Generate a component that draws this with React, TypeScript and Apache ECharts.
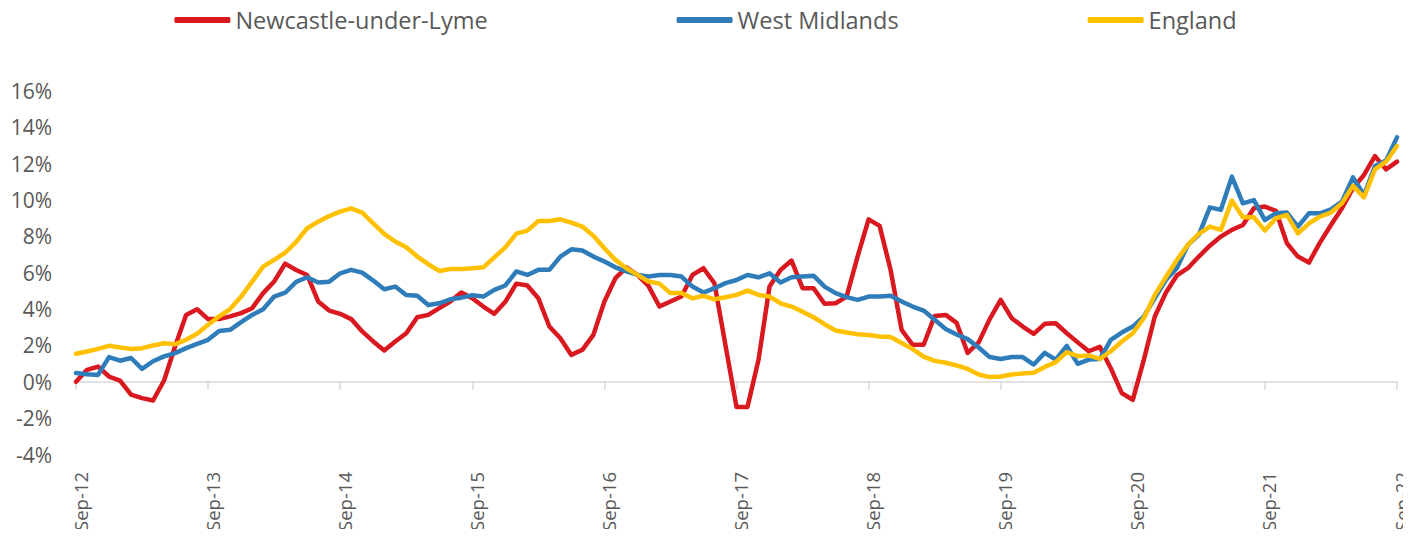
import React, { useEffect, useRef } from "react";
import * as echarts from "echarts";

const MONTHS = ["Jan", "Feb", "Mar", "Apr", "May", "Jun", "Jul", "Aug", "Sep", "Oct", "Nov", "Dec"];
// Monthly categories Sep-12 .. Sep-22
const categories: string[] = [];
for (let k = 0; k <= 120; k++) {
  const m = (8 + k) % 12;
  const y = 12 + Math.floor((8 + k) / 12);
  categories.push(`${MONTHS[m]}-${y}`);
}

const seriesNames = ["Newcastle-under-Lyme", "West Midlands", "England"];

const newcastle = [
  0.0, 0.66, 0.84, 0.29, 0.07, -0.71, -0.9, -1.03, 0.07, 1.94, 3.68, 3.99,
  3.45, 3.45, 3.6, 3.78, 4.05, 4.88, 5.52, 6.5, 6.15, 5.88, 4.42, 3.92,
  3.74, 3.45, 2.77, 2.22, 1.72, 2.22, 2.67, 3.55, 3.68, 4.05, 4.42, 4.91,
  4.6, 4.14, 3.74, 4.4, 5.4, 5.3, 4.6, 3.04, 2.4, 1.48, 1.76, 2.58,
  4.42, 5.7, 6.3, 5.88, 5.28, 4.14, 4.42, 4.69, 5.88, 6.25, 5.42, 2.0,
  -1.38, -1.38, 1.21, 5.24, 6.15, 6.67, 5.15, 5.15, 4.29, 4.32, 4.69, 6.89,
  8.94, 8.58, 6.15, 2.86, 2.04, 2.04, 3.62, 3.68, 3.24, 1.59, 2.17, 3.45,
  4.51, 3.5, 3.04, 2.64, 3.19, 3.22, 2.67, 2.17, 1.68, 1.92, 0.75, -0.62,
  -0.99, 1.21, 3.59, 4.9, 5.85, 6.25, 6.89, 7.49, 7.99, 8.36, 8.63, 9.55,
  9.64, 9.4, 7.62, 6.89, 6.56, 7.66, 8.63, 9.55, 10.65, 11.38, 12.42, 11.69,
  12.11,
];

const westMidlands = [
  0.48, 0.42, 0.38, 1.36, 1.16, 1.31, 0.71, 1.13, 1.4, 1.58, 1.85, 2.09,
  2.31, 2.8, 2.86, 3.28, 3.68, 3.99, 4.69, 4.9, 5.5, 5.75, 5.46, 5.51,
  5.97, 6.16, 6.01, 5.57, 5.09, 5.24, 4.78, 4.73, 4.23, 4.32, 4.54, 4.63,
  4.76, 4.69, 5.06, 5.3, 6.07, 5.88, 6.16, 6.16, 6.89, 7.29, 7.22, 6.89,
  6.62, 6.3, 6.07, 5.88, 5.79, 5.88, 5.88, 5.79, 5.24, 4.91, 5.15, 5.43,
  5.6, 5.88, 5.75, 5.97, 5.46, 5.75, 5.79, 5.84, 5.24, 4.88, 4.66, 4.51,
  4.69, 4.69, 4.74, 4.42, 4.14, 3.92, 3.41, 2.9, 2.6, 2.35, 1.89, 1.36,
  1.25, 1.36, 1.36, 0.95, 1.59, 1.22, 1.98, 0.99, 1.22, 1.25, 2.31, 2.71,
  3.04, 3.59, 4.6, 5.6, 6.25, 7.53, 8.08, 9.6, 9.46, 11.29, 9.82, 10.0,
  8.9, 9.27, 9.31, 8.54, 9.27, 9.27, 9.49, 9.91, 11.25, 10.28, 11.87, 12.17,
  13.45,
];

const england = [
  1.54, 1.67, 1.81, 1.98, 1.89, 1.8, 1.85, 2.0, 2.12, 2.07, 2.31, 2.64,
  3.14, 3.6, 4.0, 4.69, 5.51, 6.34, 6.71, 7.1, 7.7, 8.45, 8.81, 9.12,
  9.36, 9.54, 9.31, 8.72, 8.14, 7.72, 7.4, 6.89, 6.47, 6.1, 6.21, 6.2,
  6.25, 6.3, 6.85, 7.4, 8.15, 8.32, 8.85, 8.85, 8.94, 8.76, 8.54, 8.03,
  7.35, 6.71, 6.25, 5.88, 5.52, 5.4, 4.88, 4.88, 4.6, 4.73, 4.54, 4.65,
  4.78, 5.02, 4.78, 4.69, 4.32, 4.14, 3.86, 3.55, 3.17, 2.82, 2.71, 2.62,
  2.58, 2.49, 2.46, 2.13, 1.8, 1.39, 1.15, 1.05, 0.9, 0.71, 0.4, 0.26,
  0.29, 0.4, 0.46, 0.5, 0.82, 1.08, 1.63, 1.41, 1.45, 1.26, 1.68, 2.22,
  2.67, 3.5, 4.78, 5.75, 6.7, 7.53, 8.14, 8.54, 8.36, 9.97, 9.05, 9.05,
  8.32, 9.0, 9.18, 8.17, 8.72, 9.09, 9.31, 9.82, 10.78, 10.15, 11.69, 12.11,
  12.97,
];

const colors = ["#D9181F", "#2E7DBA", "#FFC000"];
const FONT = "'Open Sans', sans-serif";
const TEXT = "#595959";

export default function App() {
  const ref = useRef<HTMLDivElement>(null);
  useEffect(() => {
    if (!ref.current) return;
    const chart = echarts.init(ref.current, null, { renderer: "svg" });
    const data = [newcastle, westMidlands, england];
    chart.setOption({
      animation: false,
      color: colors,
      textStyle: { fontFamily: FONT },
      legend: {
        top: 0,
        left: "center",
        padding: [0, 5, 0, 5],
        itemGap: 189,
        itemWidth: 56,
        itemHeight: 6,
        icon: "roundRect",
        textStyle: { color: TEXT, fontSize: 23.5, fontFamily: FONT },
        data: seriesNames,
      },
      grid: {
        left: 68,
        right: 6,
        top: 83,
        bottom: 74.5,
        containLabel: false,
        outerBoundsMode: "none",
      },
      xAxis: {
        type: "category",
        data: categories,
        boundaryGap: false,
        axisLine: { onZero: true, lineStyle: { color: "#D9D9D9", width: 1.5 } },
        axisTick: { show: true, interval: 11, length: 8, lineStyle: { color: "#D9D9D9", width: 1.5 } },
        axisLabel: {
          interval: 11,
          rotate: 90,
          margin: 17.5,
          color: TEXT,
          fontSize: 18.5,
          fontFamily: FONT,
          verticalAlign: "top",
          lineHeight: 8,
          hideOverlap: false,
        },
        splitLine: { show: false },
      },
      yAxis: {
        type: "value",
        min: -4,
        max: 16,
        interval: 2,
        axisLine: { show: false },
        axisTick: { show: false },
        splitLine: { show: false },
        axisLabel: {
          formatter: "{value}%",
          color: TEXT,
          fontSize: 21,
          fontFamily: FONT,
          margin: 24,
        },
      },
      series: seriesNames.map((name, i) => ({
        name,
        type: "line",
        data: data[i],
        symbol: "none",
        showSymbol: false,
        lineStyle: { width: 4.5, color: colors[i], cap: "round", join: "round" },
        itemStyle: { color: colors[i] },
      })),
    });
    return () => chart.dispose();
  }, []);
  return <div ref={ref} style={{ width: 1395, height: 521 }} />;
}
